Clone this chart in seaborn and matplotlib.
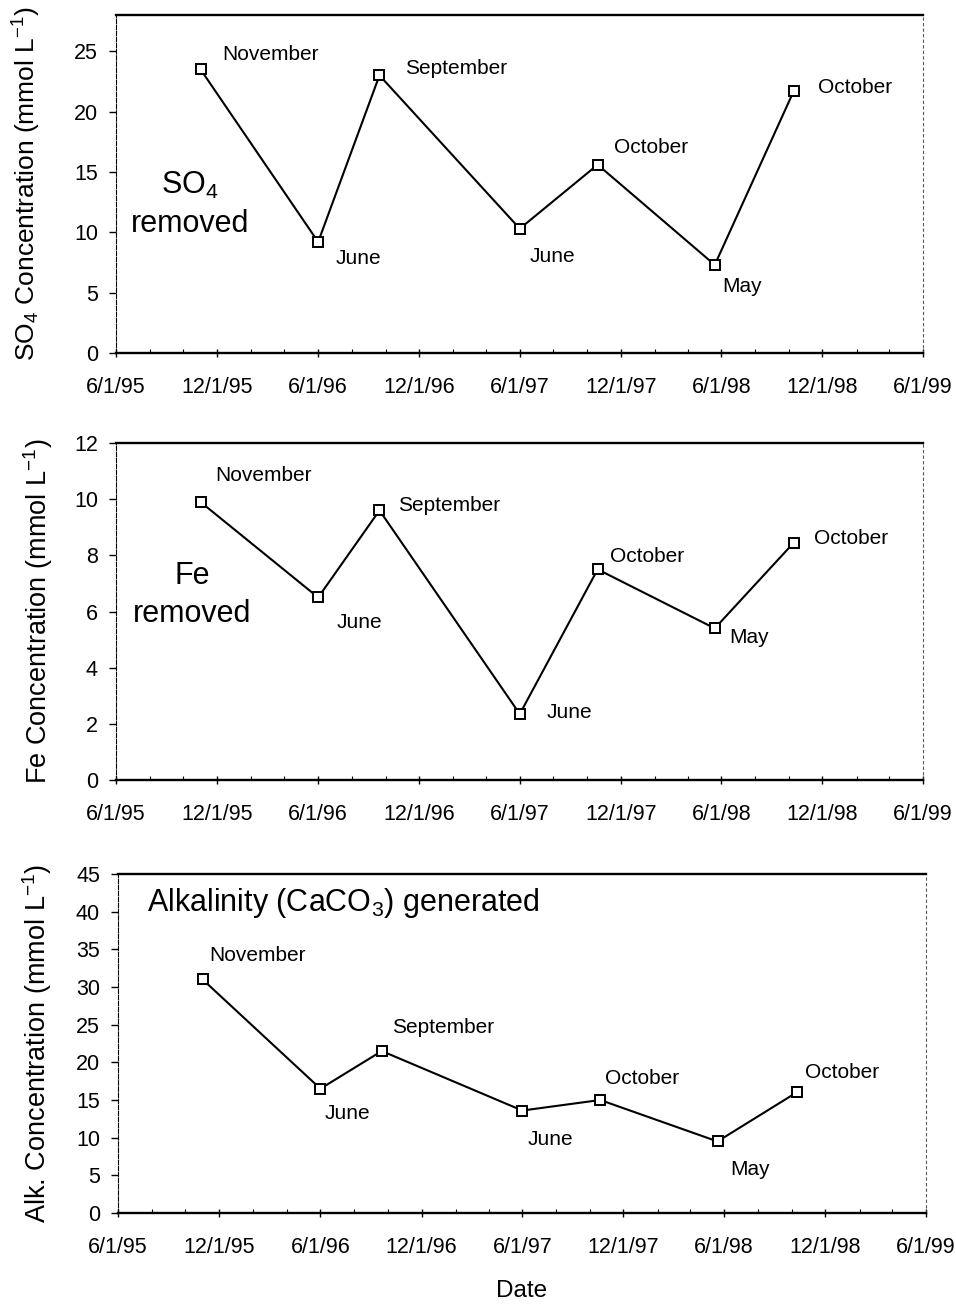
"""
Recreate the three-panel SO4 / Fe / alkalinity time-series figure.
"""

import matplotlib
matplotlib.use('Agg')
import matplotlib.pyplot as plt
import matplotlib.dates as mdates
import seaborn as sns
import pandas as pd
import numpy as np

sns.set_theme(style='ticks')
plt.rcParams['font.family'] = ['Liberation Sans', 'DejaVu Sans']
plt.rcParams['mathtext.default'] = 'regular'
for key in ['text.color', 'axes.labelcolor', 'xtick.color', 'ytick.color', 'axes.edgecolor']:
    plt.rcParams[key] = 'black'

# Sampling dates and month labels
sample_dates = pd.to_datetime(['1995-11-01', '1996-06-01', '1996-09-20', '1997-06-01',
                               '1997-10-20', '1998-05-20', '1998-10-10'])
month_labels = ['November', 'June', 'September', 'June', 'October', 'May', 'October']

# Concentrations (mmol/L)
so4_removed = [23.5, 9.2, 23.0, 10.3, 15.6, 7.3, 21.7]
fe_removed = [9.9, 6.5, 9.6, 2.35, 7.5, 5.4, 8.45]
alk_generated = [31.0, 16.5, 21.5, 13.6, 15.0, 9.5, 16.0]

# x axis ticks
tick_dates = pd.to_datetime(['1995-06-01', '1995-12-01', '1996-06-01', '1996-12-01', '1997-06-01',
                             '1997-12-01', '1998-06-01', '1998-12-01', '1999-06-01'])
tick_labels = ['6/1/95', '12/1/95', '6/1/96', '12/1/96', '6/1/97',
               '12/1/97', '6/1/98', '12/1/98', '6/1/99']

W, H = 956, 1306


def style_axes(ax, ylim, ystep):
    ax.set_xlim(tick_dates[0], tick_dates[-1])
    ax.set_ylim(*ylim)
    ax.set_yticks(np.arange(ylim[0], ylim[1] + 0.01, ystep))
    ax.set_xticks(tick_dates)
    ax.set_xticklabels(tick_labels)
    ax.xaxis.set_minor_locator(mdates.MonthLocator(bymonth=[2, 4, 6, 8, 10, 12]))
    ax.tick_params(axis='y', direction='out', length=5, width=1, pad=8, labelsize=15.5,
                   color='black', labelcolor='black')
    ax.tick_params(axis='x', which='major', direction='inout', length=6, width=1, pad=14,
                   labelsize=15.5, color='black', labelcolor='black')
    ax.tick_params(axis='x', which='minor', direction='in', length=3, width=0.8, color='black')
    ax.spines['top'].set_linewidth(1.7)
    ax.spines['bottom'].set_linewidth(1.7)
    ax.spines['left'].set_linewidth(0.8)
    ax.spines['left'].set_linestyle((0, (4, 1.5)))
    ax.spines['right'].set_linewidth(0.8)
    ax.spines['right'].set_linestyle((0, (2, 3)))
    ax.spines['right'].set_color('0.35')
    for s in ['top', 'bottom', 'left']:
        ax.spines[s].set_color('black')
    ax.set_xlabel('')


def draw_series(ax, values, offsets):
    sns.lineplot(x=sample_dates, y=values, ax=ax, color='black', linewidth=1.5,
                 marker='s', markersize=7.5, markerfacecolor='white',
                 markeredgecolor='black', markeredgewidth=1.4)
    for d, v, m, (dx, dy) in zip(sample_dates, values, month_labels, offsets):
        ax.annotate(m, (d, v), xytext=(dx, -dy), textcoords='offset pixels',
                    ha='left', va='center', fontsize=15, color='black')


fig = plt.figure(figsize=(W / 100, H / 100), dpi=100)

# --- Panel 1: SO4 ---
ax1 = fig.add_axes([116 / W, 1 - 353 / H, 807 / W, 338 / H])
draw_series(ax1, so4_removed,
            [(22, -15), (17, 17), (26, -7), (10, 28), (16, -17), (7, 22), (24, -4)])
style_axes(ax1, (0, 28), 5)
ax1.set_yticks(np.arange(0, 26, 5))
ax1.set_ylabel('SO$_4$ Concentration (mmol L$^{-1}$)', fontsize=19)
ax1.yaxis.set_label_coords(-0.091, 0.5)
ax1.text(0.0917, 0.44, 'SO$_4$\nremoved', transform=ax1.transAxes, ha='center', va='center',
         fontsize=22, linespacing=1.35)

# --- Panel 2: Fe ---
ax2 = fig.add_axes([116 / W, 1 - 780 / H, 807 / W, 337 / H])
draw_series(ax2, fe_removed,
            [(15, -26), (18, 25), (19, -5), (27, -2), (12, -13), (14, 9), (20, -4)])
style_axes(ax2, (0, 12), 2)
ax2.set_ylabel('Fe Concentration (mmol L$^{-1}$)', fontsize=19.5)
ax2.yaxis.set_label_coords(-0.076, 0.5)
ax2.text(0.094, 0.55, 'Fe\nremoved', transform=ax2.transAxes, ha='center', va='center',
         fontsize=22, linespacing=1.35)

# --- Panel 3: Alkalinity ---
ax3 = fig.add_axes([118 / W, 1 - 1213 / H, 808 / W, 339 / H])
draw_series(ax3, alk_generated,
            [(7, -24), (4, 25), (10, -24), (5, 29), (5, -22), (13, 28), (8, -20)])
style_axes(ax3, (0, 45), 5)
ax3.set_ylabel('Alk. Concentration (mmol L$^{-1}$)', fontsize=19.5)
ax3.yaxis.set_label_coords(-0.0786, 0.5)
ax3.text(0.036, 0.914, 'Alkalinity (CaCO$_3$) generated', transform=ax3.transAxes,
         ha='left', va='center', fontsize=22)
ax3.set_xlabel('Date', fontsize=17.5)
ax3.xaxis.set_label_coords(0.5, -0.198)

fig.savefig('out.png', dpi=100)
